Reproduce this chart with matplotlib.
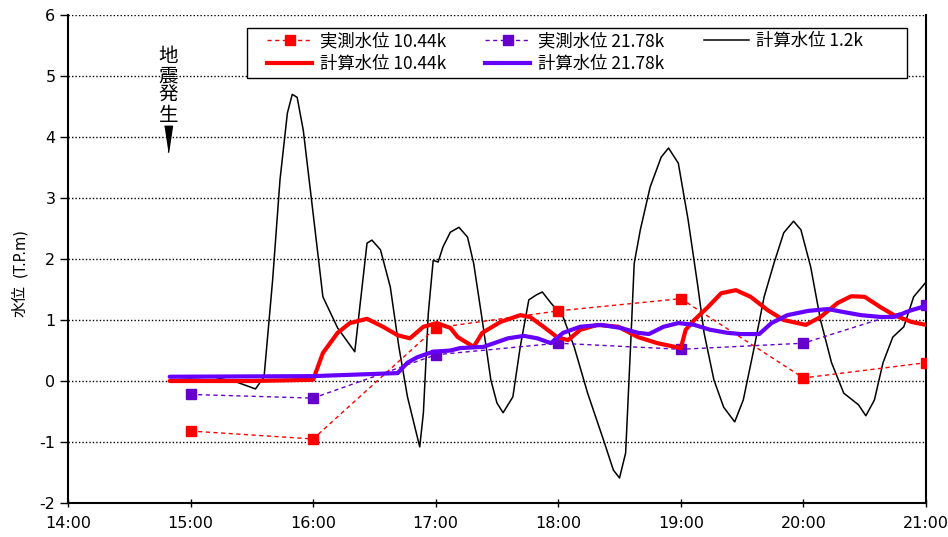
import numpy as np
import matplotlib
matplotlib.use("Agg")
import matplotlib.pyplot as plt
from matplotlib.lines import Line2D
from matplotlib.patches import Rectangle

plt.rcParams['font.family'] = ['Noto Sans CJK JP', 'DejaVu Sans']
plt.rcParams['axes.unicode_minus'] = False

# observed water level (hourly)
obs_t = [15, 16, 17, 18, 19, 20, 21]
obs_1044 = [-0.82, -0.95, 0.87, 1.15, 1.35, 0.05, 0.30]
obs_2178 = [-0.22, -0.28, 0.43, 0.62, 0.52, 0.62, 1.25]

# computed 1.2k
calc12_t = [14.83, 15.0, 15.18, 15.38, 15.53, 15.6, 15.67, 15.73, 15.79, 15.83, 15.87, 15.92,
            16.0, 16.08, 16.2, 16.34, 16.44, 16.48, 16.55, 16.63, 16.7, 16.77, 16.87, 16.9,
            16.94, 16.98, 17.02, 17.06, 17.12, 17.19, 17.26, 17.31, 17.38, 17.45, 17.5, 17.55,
            17.63, 17.69, 17.76, 17.82, 17.87, 17.94, 18.04, 18.13, 18.24, 18.37, 18.45, 18.5,
            18.55, 18.59, 18.62, 18.67, 18.75, 18.84, 18.9, 18.98, 19.06, 19.14, 19.19, 19.27,
            19.35, 19.44, 19.51, 19.6, 19.68, 19.76, 19.84, 19.92, 19.98, 20.06, 20.14, 20.23,
            20.33, 20.45, 20.51, 20.58, 20.65, 20.73, 20.82, 20.9, 21.0]
calc12_v = [0.07, 0.05, 0.07, -0.02, -0.13, 0.07, 1.66, 3.3, 4.39, 4.7, 4.65, 4.11,
            2.75, 1.38, 0.87, 0.48, 2.26, 2.31, 2.15, 1.54, 0.56, -0.26, -1.08, -0.52,
            1.11, 1.98, 1.95, 2.2, 2.44, 2.52, 2.36, 1.93, 1.0, 0.02, -0.36, -0.52,
            -0.26, 0.56, 1.33, 1.41, 1.46, 1.28, 1.05, 0.56, -0.2, -0.97, -1.46, -1.59,
            -1.18, 0.56, 1.93, 2.48, 3.18, 3.67, 3.82, 3.57, 2.64, 1.54, 0.79, 0.02,
            -0.43, -0.67, -0.31, 0.56, 1.38, 1.93, 2.43, 2.62, 2.48, 1.87, 1.0, 0.3,
            -0.2, -0.39, -0.57, -0.31, 0.3, 0.72, 0.89, 1.38, 1.62]

# computed 10.44k
calc1044_t = [14.83, 15.5, 16.0, 16.08, 16.2, 16.3, 16.44, 16.57, 16.69, 16.79, 16.9, 17.01,
              17.12, 17.18, 17.31, 17.38, 17.53, 17.69, 17.77, 17.88, 17.99, 18.08, 18.18,
              18.32, 18.49, 18.65, 18.81, 19.0, 19.04, 19.11, 19.22, 19.33, 19.45, 19.57,
              19.71, 19.84, 20.02, 20.14, 20.28, 20.39, 20.5, 20.63, 20.74, 20.88, 21.0]
calc1044_v = [0.0, 0.0, 0.02, 0.46, 0.79, 0.95, 1.02, 0.89, 0.75, 0.7, 0.89, 0.95,
              0.87, 0.72, 0.56, 0.79, 0.97, 1.08, 1.05, 0.89, 0.72, 0.67, 0.84,
              0.92, 0.89, 0.72, 0.62, 0.54, 0.84, 1.0, 1.21, 1.44, 1.49, 1.38,
              1.16, 1.0, 0.92, 1.05, 1.28, 1.39, 1.38, 1.21, 1.08, 0.97, 0.92]

# computed 21.78k
calc2178_t = [14.83, 16.0, 16.69, 16.77, 16.85, 16.98, 17.12, 17.2, 17.39, 17.59, 17.72, 17.83,
              17.94, 18.04, 18.18, 18.35, 18.51, 18.65, 18.74, 18.86, 18.98, 19.11, 19.24,
              19.38, 19.49, 19.64, 19.74, 19.87, 20.04, 20.2, 20.33, 20.47, 20.63, 20.74,
              20.88, 21.0]
calc2178_v = [0.07, 0.08, 0.13, 0.3, 0.39, 0.48, 0.5, 0.54, 0.56, 0.7, 0.74, 0.7,
              0.62, 0.79, 0.89, 0.92, 0.87, 0.79, 0.77, 0.89, 0.95, 0.92, 0.84,
              0.79, 0.77, 0.77, 0.95, 1.08, 1.15, 1.18, 1.13, 1.08, 1.05, 1.05,
              1.16, 1.23]

quake_t = 14.82
xticks = [14, 15, 16, 17, 18, 19, 20, 21]
xlabels = ['14:00', '15:00', '16:00', '17:00', '18:00', '19:00', '20:00', '21:00']

RED = '#FF0000'
PURP = '#6600CC'
VIOL = '#6600FF'

fig = plt.figure(figsize=(9.48, 5.37), dpi=100)
ax = fig.add_axes([0.0717, 0.0633, 0.905, 0.9087])

ax.plot(obs_t, obs_1044, color=RED, ls=(0, (3, 2.5)), lw=1, marker='s', ms=7.5, mec=RED, zorder=4)
ax.plot(obs_t, obs_2178, color=PURP, ls=(0, (3, 2.5)), lw=1, marker='s', ms=7.5, mec=PURP, zorder=4)
ax.plot(calc12_t, calc12_v, color='black', lw=1.1, zorder=3)
ax.plot(calc1044_t, calc1044_v, color=RED, lw=3, solid_capstyle='round', zorder=5)
ax.plot(calc2178_t, calc2178_v, color=VIOL, lw=3, solid_capstyle='round', zorder=5)

ax.set_xlim(14, 21)
ax.set_ylim(-2, 6)
ax.set_xticks(xticks)
ax.set_xticklabels(xlabels)
ax.set_yticks(range(-2, 7))
ax.tick_params(axis='y', direction='out', length=6, width=1, labelsize=11.5, pad=3)
ax.tick_params(axis='x', direction='inout', length=6, width=1, labelsize=11.5, pad=6)
for lab in ax.get_xticklabels() + ax.get_yticklabels():
    lab.set_family('DejaVu Sans')
ax.yaxis.grid(True, color='black', ls=(0, (1, 1.5)), lw=1)
ax.set_axisbelow(True)
ax.spines['top'].set_visible(False)
for s in ['left', 'bottom', 'right']:
    ax.spines[s].set_linewidth(1.5)

# y label: 水位 with smaller (T.P.m)
fig.text(0.021, 0.4395, '水位', rotation=90, fontsize=11.5, ha='center', va='center')
fig.text(0.021, 0.529, '(T.P.m)', rotation=90, fontsize=10.5, ha='center', va='center',
         family='DejaVu Sans')

# earthquake annotation
ax.text(quake_t, 5.5, '地\n震\n発\n生', fontsize=14, ha='center', va='top', linespacing=0.92)
ax.plot([quake_t], [3.97], marker=[(-0.3, 1), (0.3, 1), (0, -1)], ms=19, color='black')

handles = [
    Line2D([], [], color=RED, ls=(0, (3, 2.5)), lw=1, marker='s', ms=7.5),
    Line2D([], [], color=RED, lw=3),
    Line2D([], [], color=PURP, ls=(0, (3, 2.5)), lw=1, marker='s', ms=7.5),
    Line2D([], [], color=VIOL, lw=3),
    Line2D([], [], color='black', lw=1.1),
]
labels = ['実測水位 10.44k', '計算水位 10.44k', '実測水位 21.78k', '計算水位 21.78k', '計算水位 1.2k']
leg = ax.legend(handles, labels, ncol=3, loc='upper left',
                bbox_to_anchor=(267 / 948, 1 - 32 / 537), bbox_transform=fig.transFigure,
                borderaxespad=0, borderpad=0, frameon=False,
                fontsize=12.5, handlelength=2.6, handletextpad=0.45, columnspacing=2.25,
                labelspacing=0.3)
leg.set_zorder(10)

# legend box, wider than its entries as in the original
box = Rectangle((247 / 948, 1 - 78 / 537), 660 / 948, 50 / 537,
                transform=fig.transFigure, facecolor='white',
                edgecolor='black', lw=1, zorder=8, clip_on=False)
ax.add_patch(box)

fig.savefig('out.png', dpi=100)
